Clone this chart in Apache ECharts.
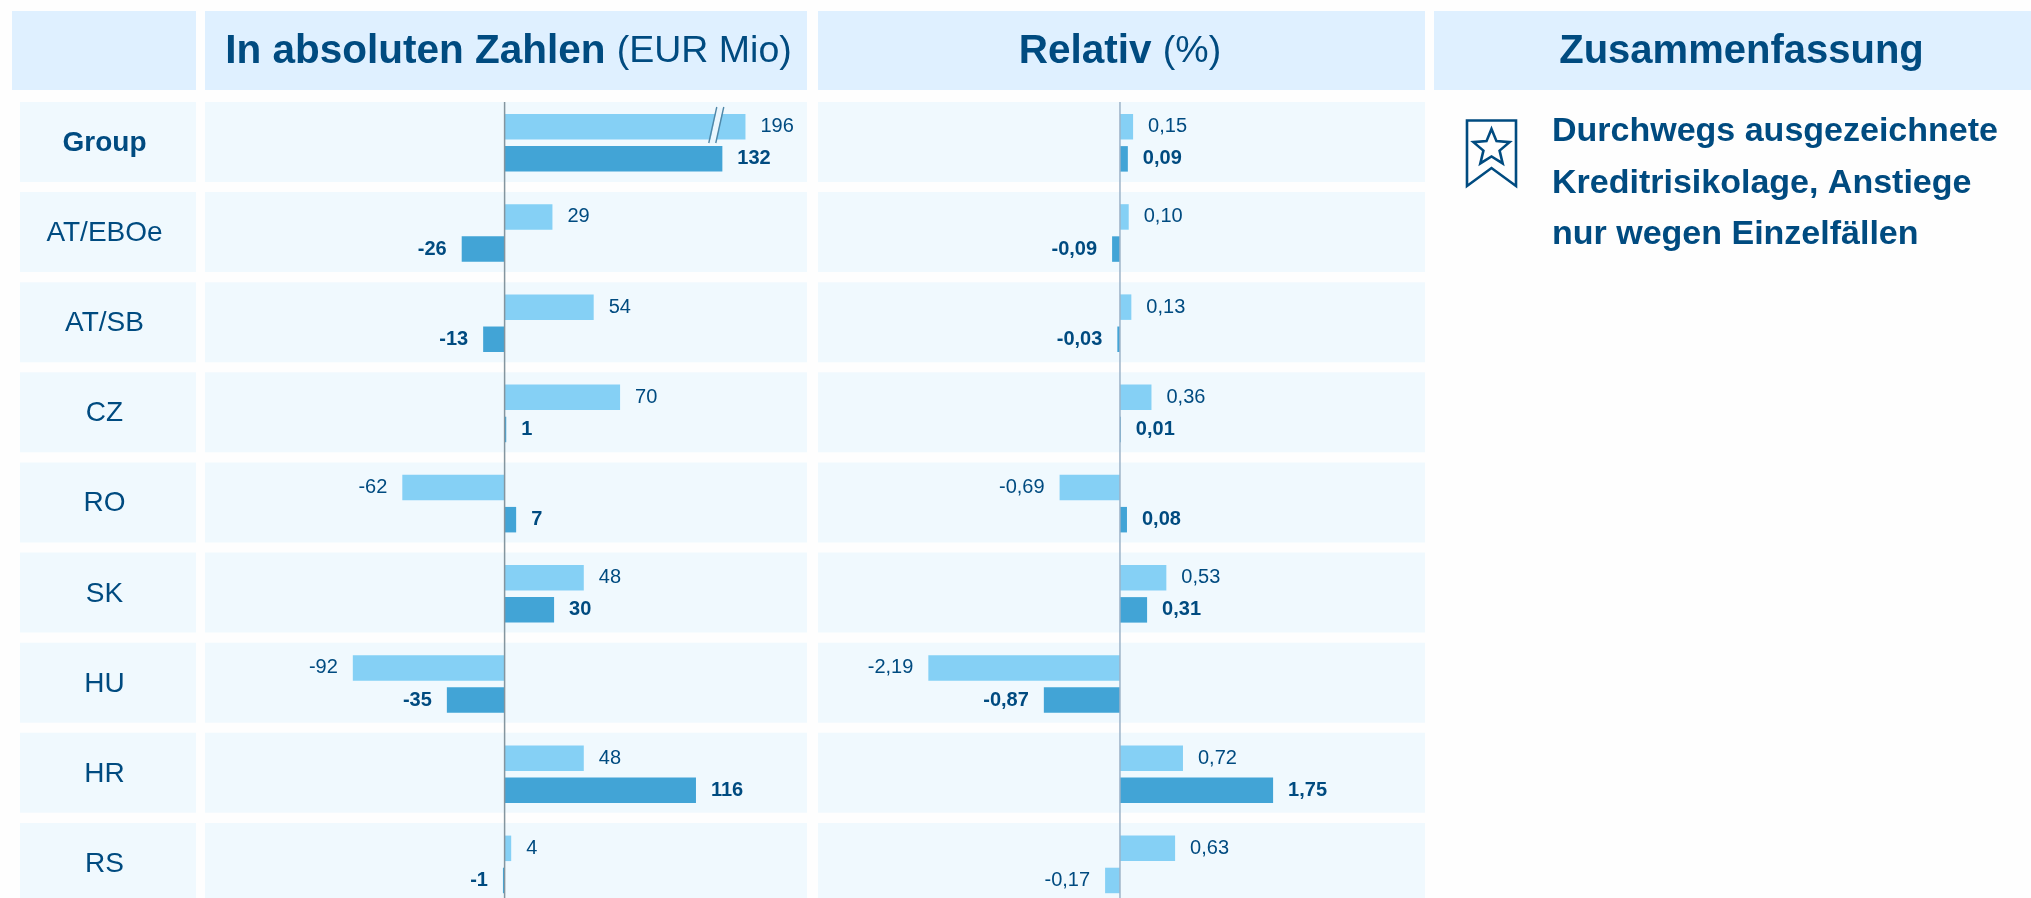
<!DOCTYPE html>
<html>
<head>
<meta charset="utf-8">
<title>Kreditrisikokosten</title>
<script src="https://cdn.jsdelivr.net/npm/echarts@6/dist/echarts.min.js"></script>
<style>
html, body { margin: 0; padding: 0; background: #fefefe; overflow: hidden; }
#chart { width: 2031px; height: 898px; }
</style>
</head>
<body>
<div id="chart"></div>
<script>
var categories = ["Group", "AT/EBOe", "AT/SB", "CZ", "RO", "SK", "HU", "HR", "RS"];
var absolutePrev = [196, 29, 54, 70, -62, 48, -92, 48, 4];
var absoluteCurr = [132, -26, -13, 1, 7, 30, -35, 116, -1];
var relativePrev = [0.15, 0.10, 0.13, 0.36, -0.69, 0.53, -2.19, 0.72, 0.63];
var relativeCurr = [0.09, -0.09, -0.03, 0.01, 0.08, 0.31, -0.87, 1.75, -0.17];
var summaryLines = ["Durchwegs ausgezeichnete", "Kreditrisikolage, Anstiege", "nur wegen Einzelfällen"];

var FONT = '"Liberation Sans", Arial, sans-serif';
var NAVY = "#004b80";
var LIGHT_BAR = "#85d0f5";
var DARK_BAR = "#42a4d6";
var HEADER_BG = "#dff0ff";
var CELL_BG = "#f0f9fe";

function fmtAbsolute(v) {
	return String(v);
}
function fmtRelative(v) {
	return v.toFixed(2).replace(".", ",");
}

// einzelner Balken mit Label, negative Werte links
function barItem(v, fmt, color, bold) {
	return {
		value: v,
		itemStyle: {color: color},
		label: {
			show: true,
			position: v < 0 ? "left" : "right",
			distance: 15,
			formatter: fmt(v),
			color: NAVY,
			fontFamily: FONT,
			fontSize: 20,
			fontWeight: bold ? "bold" : "normal"
		}
	};
}

function barSeries(values, fmt, color, bold, axisIndex, lightIndex) {
	return {
		type: "bar",
		xAxisIndex: axisIndex,
		yAxisIndex: axisIndex,
		barWidth: 25.5,
		barGap: "26%",
		silent: true,
		data: values.map(function (v, i) {
			// RS relativ ist im Original hell und nicht fett
			if (i === lightIndex) {
				return barItem(v, fmt, LIGHT_BAR, false);
			}
			return barItem(v, fmt, color, bold);
		})
	};
}

function rect(x, y, w, h, color) {
	return {type: "rect", z: -1, silent: true, shape: {x: x, y: y, width: w, height: h}, style: {fill: color}};
}

function text(x, y, content, size, weight, align) {
	return {
		type: "text", z: 5, silent: true, x: x, y: y,
		style: {text: content, fill: NAVY, fontFamily: FONT, fontSize: size, fontWeight: weight, align: align, verticalAlign: "middle"}
	};
}

function headerText(x, y, bold, normal) {
	return {
		type: "text", z: 5, silent: true, x: x, y: y,
		style: {
			text: "{b|" + bold + "}{n|" + normal + "}",
			align: "center",
			verticalAlign: "middle",
			rich: {
				b: {fill: NAVY, fontFamily: FONT, fontSize: 40.5, fontWeight: "bold"},
				n: {fill: NAVY, fontFamily: FONT, fontSize: 37.5, fontWeight: "normal"}
			}
		}
	};
}

function line(x1, y1, x2, y2, color, width) {
	return {type: "line", z: 6, silent: true, shape: {x1: x1, y1: y1, x2: x2, y2: y2}, style: {stroke: color, lineWidth: width}};
}

// Kopfzeile und Zeilenhintergruende
var gfx = [
	rect(12, 11, 184, 79, HEADER_BG),
	rect(205, 11, 602, 79, HEADER_BG),
	rect(818, 11, 607, 79, HEADER_BG),
	rect(1434, 11, 597, 79, HEADER_BG),
	headerText(508.5, 52, "In absoluten Zahlen ", "(EUR Mio)"),
	headerText(1120, 52, "Relativ ", "(%)"),
	text(1741.5, 52, "Zusammenfassung", 40, "bold", "center")
];
categories.forEach(function (c, i) {
	var top = 102 + i * 90.12;
	gfx.push(rect(20, top, 176, 80, CELL_BG));
	gfx.push(rect(205, top, 602, 80, CELL_BG));
	gfx.push(rect(818, top, 607, 80, CELL_BG));
});
summaryLines.forEach(function (s, i) {
	gfx.push(text(1552, 132 + i * 51.4, s, 34, "bold", "left"));
});

// Lesezeichen mit Stern
var starPoints = [];
for (var k = 0; k < 10; k++) {
	var r = k % 2 === 0 ? 19 : 8.5;
	var a = -Math.PI / 2 + k * Math.PI / 5;
	starPoints.push([1491.5 + r * Math.cos(a), 148 + r * Math.sin(a)]);
}
gfx.push({
	type: "polygon", z: 5, silent: true,
	shape: {points: [[1467, 120.5], [1516, 120.5], [1516, 186], [1491.5, 168], [1467, 186]]},
	style: {fill: "none", stroke: NAVY, lineWidth: 2.6}
});
gfx.push({
	type: "polygon", z: 5, silent: true,
	shape: {points: starPoints},
	style: {fill: "none", stroke: NAVY, lineWidth: 2.6}
});

var myChart = echarts.init(document.getElementById("chart"));

myChart.setOption({
	animation: false,
	backgroundColor: "#fefefe",
	grid: [
		{left: 205, width: 602, top: 97.7, height: 811.8, outerBoundsMode: "none"},
		{left: 818, width: 607, top: 97.7, height: 811.8, outerBoundsMode: "none"}
	],
	xAxis: [
		{
			type: "value", gridIndex: 0, min: -181.6, max: 233.3,
			breaks: [{start: 134, end: 184, gap: 0}],
			breakArea: {show: false},
			axisLine: {show: false}, axisTick: {show: false}, axisLabel: {show: false}, splitLine: {show: false}
		},
		{
			type: "value", gridIndex: 1, min: -3.451, max: 3.486,
			axisLine: {show: false}, axisTick: {show: false}, axisLabel: {show: false}, splitLine: {show: false}
		}
	],
	yAxis: [
		{
			type: "category", gridIndex: 0, inverse: true,
			data: categories.map(function (c, i) {
				return i === 0 ? {value: c, textStyle: {fontWeight: "bold", align: "center", padding: [3, 0, 0, 0]}} : c;
			}),
			axisLine: {show: false, onZero: false}, axisTick: {show: false},
			axisLabel: {margin: 100.5, align: "center", color: NAVY, fontFamily: FONT, fontSize: 28, padding: [3, 0, 0, 0]}
		},
		{
			type: "category", gridIndex: 1, inverse: true, data: categories,
			axisLine: {show: false, onZero: false}, axisTick: {show: false}, axisLabel: {show: false}
		}
	],
	series: [
		barSeries(absolutePrev, fmtAbsolute, LIGHT_BAR, false, 0),
		barSeries(absoluteCurr, fmtAbsolute, DARK_BAR, true, 0),
		barSeries(relativePrev, fmtRelative, LIGHT_BAR, false, 1),
		barSeries(relativeCurr, fmtRelative, DARK_BAR, true, 1, 8)
	],
	graphic: {elements: gfx}
});

// Nulllinien und Bruchstrich aus den Achsen ableiten
var zeroAbs = myChart.convertToPixel({xAxisIndex: 0}, 0);
var zeroRel = myChart.convertToPixel({xAxisIndex: 1}, 0);
var breakX = myChart.convertToPixel({xAxisIndex: 0}, 128);
gfx.push(line(zeroAbs, 102, zeroAbs, 898, "#84959f", 1.5));
gfx.push(line(zeroRel, 102, zeroRel, 898, "#9db3c8", 1.5));
gfx.push({
	type: "polygon", z: 6, silent: true,
	shape: {points: [[breakX + 1, 108], [breakX + 7, 108], [breakX, 143], [breakX - 6, 143]]},
	style: {fill: "#eaf6fd", stroke: "none"}
});
gfx.push(line(breakX + 1, 107, breakX - 7, 143, "#4f87a8", 1.4));
gfx.push(line(breakX + 8, 107, breakX, 143, "#4f87a8", 1.4));
myChart.setOption({graphic: {elements: gfx}});
</script>
</body>
</html>
